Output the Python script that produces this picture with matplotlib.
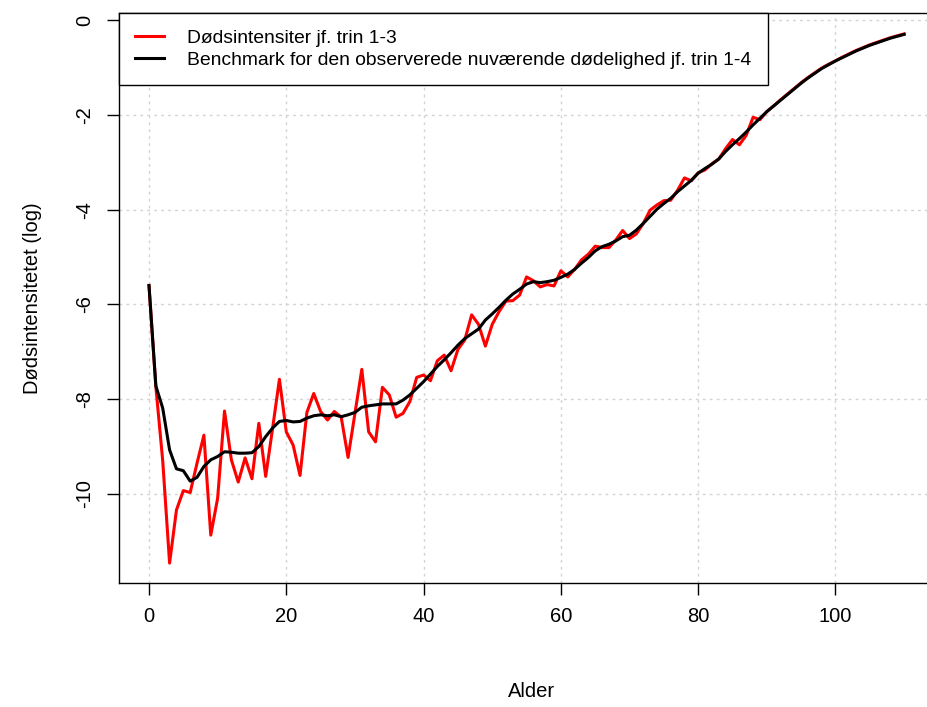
import numpy as np
import matplotlib.pyplot as plt

plt.rcParams['font.family'] = ['Liberation Sans', 'DejaVu Sans']
plt.rcParams['axes.unicode_minus'] = False

# ----------------------
# Data
# ----------------------
alder = np.arange(0, 111)

doedsintensitet = [
    -5.60, -7.74, -9.30, -11.46, -10.34, -9.93, -9.97, -9.35, -8.76, -10.87,
    -10.09, -8.25, -9.28, -9.75, -9.24, -9.68, -8.51, -9.63, -8.62, -7.58,
    -8.69, -8.97, -9.61, -8.28, -7.88, -8.26, -8.44, -8.26, -8.38, -9.23,
    -8.30, -7.37, -8.69, -8.90, -7.75, -7.91, -8.38, -8.30, -8.05, -7.54,
    -7.49, -7.61, -7.19, -7.07, -7.40, -6.95, -6.75, -6.22, -6.42, -6.88,
    -6.42, -6.15, -5.93, -5.92, -5.80, -5.42, -5.50, -5.63, -5.58, -5.61,
    -5.29, -5.42, -5.26, -5.06, -4.94, -4.77, -4.80, -4.80, -4.64, -4.44,
    -4.61, -4.51, -4.29, -4.01, -3.90, -3.81, -3.80, -3.59, -3.33, -3.39,
    -3.22, -3.16, -3.03, -2.93, -2.71, -2.52, -2.63, -2.43, -2.05, -2.10,
    -1.93, -1.81, -1.68, -1.56, -1.44, -1.32, -1.21, -1.11, -1.01, -0.93,
    -0.86, -0.78, -0.71, -0.64, -0.58, -0.52, -0.47, -0.42, -0.37, -0.33,
    -0.29,
]

benchmark = [
    -5.60, -7.72, -8.19, -9.07, -9.47, -9.51, -9.73, -9.65, -9.42, -9.28,
    -9.21, -9.11, -9.12, -9.14, -9.14, -9.13, -9.00, -8.79, -8.61, -8.47,
    -8.45, -8.48, -8.47, -8.40, -8.35, -8.33, -8.35, -8.33, -8.37, -8.33,
    -8.28, -8.17, -8.14, -8.12, -8.10, -8.10, -8.10, -8.02, -7.91, -7.77,
    -7.63, -7.47, -7.31, -7.17, -7.02, -6.86, -6.72, -6.62, -6.52, -6.33,
    -6.20, -6.06, -5.91, -5.78, -5.68, -5.57, -5.52, -5.54, -5.52, -5.49,
    -5.43, -5.36, -5.26, -5.13, -5.01, -4.87, -4.78, -4.73, -4.66, -4.57,
    -4.54, -4.43, -4.29, -4.14, -3.99, -3.87, -3.76, -3.62, -3.50, -3.38,
    -3.23, -3.13, -3.04, -2.93, -2.77, -2.63, -2.50, -2.36, -2.21, -2.07,
    -1.93, -1.81, -1.69, -1.57, -1.45, -1.33, -1.22, -1.12, -1.02, -0.94,
    -0.86, -0.79, -0.72, -0.65, -0.59, -0.53, -0.48, -0.43, -0.38, -0.34,
    -0.30,
]

labels = ["Dødsintensiter jf. trin 1-3",
          "Benchmark for den observerede nuværende dødelighed jf. trin 1-4"]

# ----------------------
# Plot
# ----------------------
fig = plt.figure(figsize=(9.28, 7.07), dpi=100)
# the right edge of the plot box lies outside the picture, as in the reference
ax = fig.add_axes([0.128, 0.1754, 0.89, 0.8068])

ax.plot(alder, doedsintensitet, color='red', lw=2.2, label=labels[0], zorder=3)
ax.plot(alder, benchmark, color='black', lw=2.2, label=labels[1], zorder=4)

ax.set_xlim(-4.4, -4.4 + 0.89 * 928 / 6.865)
ax.set_ylim(-11.88, 0.16)
ax.set_xticks(np.arange(0, 101, 20))
ax.set_yticks(np.arange(-10, 1, 2))
ax.grid(True, color='#d3d3d3', linestyle=(0, (2, 3)), linewidth=1.0)
ax.set_axisbelow(True)

fs = 14.5
ax.tick_params(direction='out', length=8.5, width=1, labelsize=fs, pad=9)
for lab in ax.get_yticklabels():
    lab.set_rotation(90)
    lab.set_va('center')
for sp in ax.spines.values():
    sp.set_linewidth(1.0)
ax.spines['right'].set_visible(False)

ax.set_xlabel("Alder", fontsize=fs, labelpad=40)
ax.set_ylabel("Dødsintensitetet (log)", fontsize=fs, labelpad=24)

leg = ax.legend(loc='upper left', borderaxespad=0, fancybox=False,
                edgecolor='black', framealpha=1, fontsize=13.9,
                handlelength=1.5, handletextpad=1.2, borderpad=0.85,
                labelspacing=0.25)
leg.get_frame().set_linewidth(1.0)

plt.savefig("out.png", dpi=100)
